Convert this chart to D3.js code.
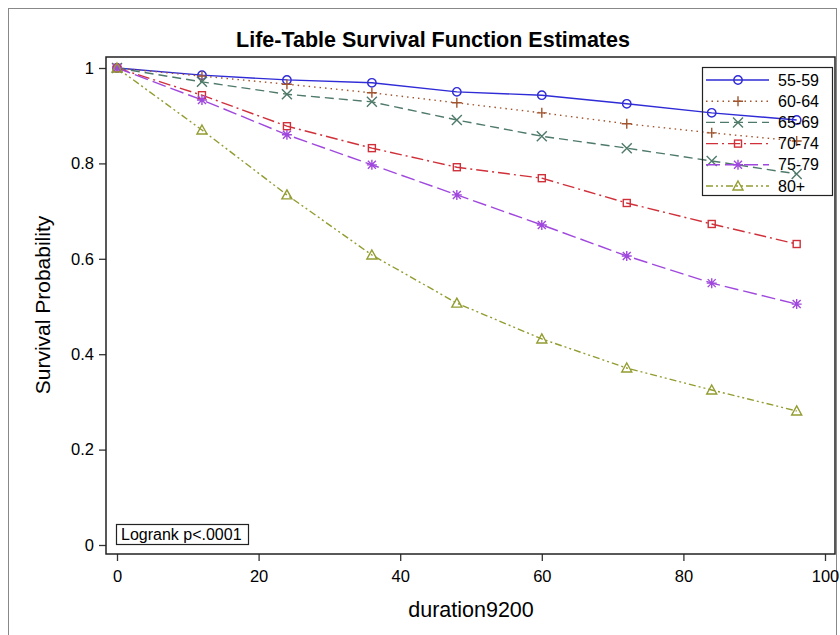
<!DOCTYPE html>
<html>
<head>
<meta charset="utf-8">
<script src="https://cdn.jsdelivr.net/npm/d3@7"></script>
<style>
  html, body { margin: 0; padding: 0; background: #fff; }
  svg { display: block; }
  text { font-family: Arial, "Liberation Sans", sans-serif; fill: #000; }
</style>
</head>
<body>
<script>
// Life-table survival estimates by age group, evaluated every 12 months
const times = [0, 12, 24, 36, 48, 60, 72, 84, 96];
const groups = ["55-59", "60-64", "65-69", "70-74", "75-79", "80+"];
const surv_55_59 = [1, 0.985, 0.975, 0.969, 0.950, 0.943, 0.925, 0.906, 0.891];
const surv_60_64 = [1, 0.983, 0.966, 0.948, 0.927, 0.906, 0.883, 0.864, 0.847];
const surv_65_69 = [1, 0.971, 0.945, 0.929, 0.891, 0.857, 0.832, 0.805, 0.778];
const surv_70_74 = [1, 0.943, 0.878, 0.832, 0.792, 0.769, 0.717, 0.673, 0.631];
const surv_75_79 = [1, 0.933, 0.860, 0.797, 0.734, 0.671, 0.606, 0.549, 0.505];
const surv_80p   = [1, 0.870, 0.734, 0.608, 0.507, 0.432, 0.371, 0.325, 0.281];
const xTicks = [0, 20, 40, 60, 80, 100];
const yTicks = [0, 0.2, 0.4, 0.6, 0.8, 1];

const seriesValues = [surv_55_59, surv_60_64, surv_65_69, surv_70_74, surv_75_79, surv_80p];
const colors = ["#2f2bd6", "#a0552f", "#4f7a6a", "#d0303a", "#a048dd", "#939c30"];
const dashes = [null, "1.5,4", "9,5", "12,4,2,4", "14,5", "7,3,2,3,2,3"];
const symbols = ["circle", "plus", "x", "square", "star", "triangle"];

const W = 840, H = 635;
const svg = d3.select("body").append("svg").attr("width", W).attr("height", H);

// outer graph border
svg.append("rect").attr("x", 8.5).attr("y", 8.5).attr("width", 828).attr("height", 640)
  .attr("fill", "none").attr("stroke", "#888").attr("stroke-width", 1);

const frame = {left: 106, right: 835, top: 57, bottom: 554};
const x = d3.scaleLinear().domain([0, 100]).range([117, 825]);
const y = d3.scaleLinear().domain([0, 1]).range([545, 68]);

// title
svg.append("text").attr("x", 433).attr("y", 47).attr("text-anchor", "middle")
  .attr("font-size", 21.5).attr("font-weight", "bold").text("Life-Table Survival Function Estimates");

// axes
const xAxis = svg.append("g").attr("transform", `translate(0,${frame.bottom})`)
  .call(d3.axisBottom(x).tickValues(xTicks).tickSize(7).tickPadding(9).tickFormat(d3.format("d")));
const yAxis = svg.append("g").attr("transform", `translate(${frame.left},0)`)
  .call(d3.axisLeft(y).tickValues(yTicks).tickSize(7).tickPadding(5).tickFormat(d => d === 0 || d === 1 ? String(d) : d.toFixed(1)));
[xAxis, yAxis].forEach(g => {
  g.select(".domain").remove();
  g.selectAll("line").attr("stroke", "#333").attr("stroke-width", 1.3);
  g.selectAll("text").style("font-size", "16.5px").attr("fill", "#000")
    .attr("font-family", "Arial, 'Liberation Sans', sans-serif");
});

// plot frame
svg.append("rect").attr("x", frame.left).attr("y", frame.top)
  .attr("width", frame.right - frame.left).attr("height", frame.bottom - frame.top)
  .attr("fill", "none").attr("stroke", "#222").attr("stroke-width", 1.5);

// axis labels
svg.append("text").attr("x", 471).attr("y", 617).attr("text-anchor", "middle")
  .attr("font-size", 21.5).text("duration9200");
svg.append("text").attr("transform", "translate(50,305) rotate(-90)").attr("text-anchor", "middle")
  .attr("font-size", 21).text("Survival Probability");

function drawMarker(g, type, color) {
  const s = 4.2;
  const p = d3.path();
  if (type === "circle") {
    g.append("circle").attr("r", s).attr("fill", "none").attr("stroke", color).attr("stroke-width", 1.4);
    return;
  }
  if (type === "square") {
    g.append("rect").attr("x", -3.5).attr("y", -3.5).attr("width", 7).attr("height", 7)
      .attr("fill", "none").attr("stroke", color).attr("stroke-width", 1.4);
    return;
  }
  if (type === "triangle") {
    p.moveTo(0, -5); p.lineTo(5, 4); p.lineTo(-5, 4); p.closePath();
  } else if (type === "plus") {
    p.moveTo(-5, 0); p.lineTo(5, 0); p.moveTo(0, -5); p.lineTo(0, 5);
  } else if (type === "x") {
    p.moveTo(-5, -5); p.lineTo(5, 5); p.moveTo(-5, 5); p.lineTo(5, -5);
  } else if (type === "star") {
    p.moveTo(-5, 0); p.lineTo(5, 0); p.moveTo(0, -5); p.lineTo(0, 5);
    p.moveTo(-4, -4); p.lineTo(4, 4); p.moveTo(-4, 4); p.lineTo(4, -4);
  }
  g.append("path").attr("d", p.toString()).attr("fill", "none").attr("stroke", color).attr("stroke-width", 1.4);
}

const line = d3.line().x((d, i) => x(times[i])).y(d => y(d));

// survival curves
seriesValues.forEach((vals, k) => {
  svg.append("path").datum(vals).attr("d", line).attr("fill", "none")
    .attr("stroke", colors[k]).attr("stroke-width", 1.4)
    .attr("stroke-dasharray", dashes[k]);
});
seriesValues.forEach((vals, k) => {
  vals.forEach((v, i) => {
    const g = svg.append("g").attr("transform", `translate(${x(times[i])},${y(v)})`);
    drawMarker(g, symbols[k], colors[k]);
  });
});

// legend
const leg = svg.append("g");
leg.append("rect").attr("x", 702.5).attr("y", 67.5).attr("width", 130).attr("height", 128)
  .attr("fill", "none").attr("stroke", "#222").attr("stroke-width", 1.2);
groups.forEach((name, k) => {
  const ly = 80 + k * 21.2;
  leg.append("line").attr("x1", 706).attr("x2", 769).attr("y1", ly).attr("y2", ly)
    .attr("stroke", colors[k]).attr("stroke-width", 1.4).attr("stroke-dasharray", dashes[k]);
  const g = leg.append("g").attr("transform", `translate(738,${ly})`);
  drawMarker(g, symbols[k], colors[k]);
  leg.append("text").attr("x", 778).attr("y", ly + 5.5).attr("font-size", 16).text(name);
});

// log-rank annotation
svg.append("rect").attr("x", 116.5).attr("y", 524.5).attr("width", 132).attr("height", 20)
  .attr("fill", "#fff").attr("stroke", "#222").attr("stroke-width", 1.2);
svg.append("text").attr("x", 121).attr("y", 540).attr("font-size", 16).text("Logrank p<.0001");
</script>
</body>
</html>
